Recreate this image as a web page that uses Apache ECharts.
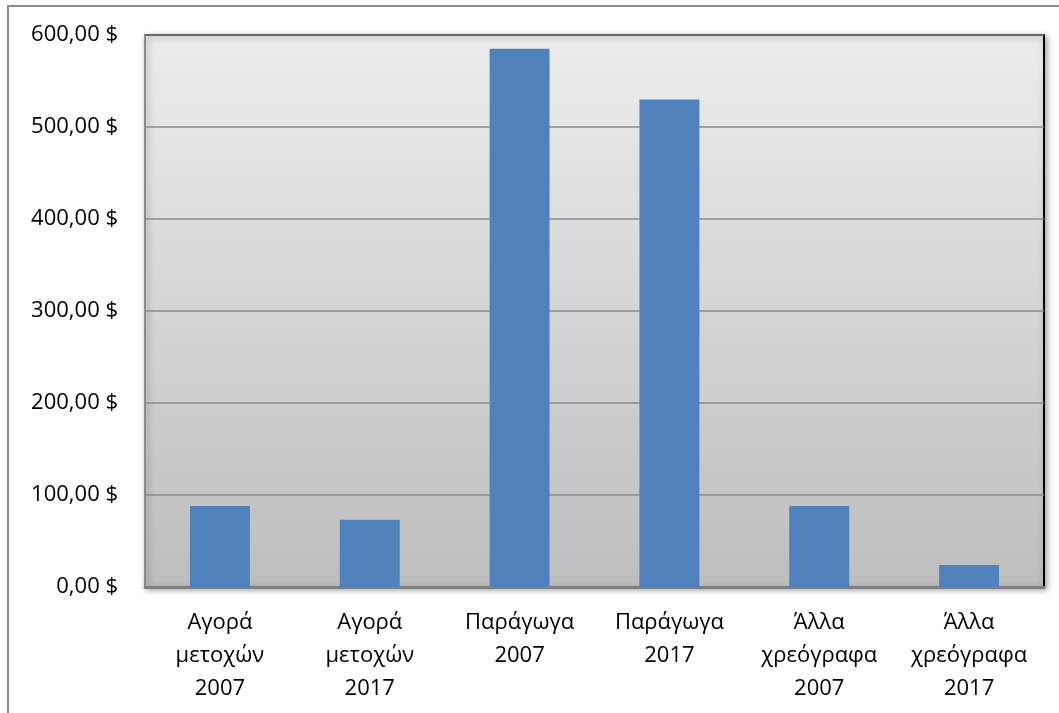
<!DOCTYPE html>
<html>
<head>
<meta charset="utf-8">
<script src="https://cdn.jsdelivr.net/npm/echarts@6/dist/echarts.min.js"></script>
<style>
html, body { margin: 0; padding: 0; background: #ffffff; }
#chart { width: 1059px; height: 713px; }
</style>
</head>
<body>
<div id="chart"></div>
<script>
// Categories (multi-line labels) and the amounts in dollars
const categories = [
  'Αγορά\nμετοχών\n2007',
  'Αγορά\nμετοχών\n2017',
  'Παράγωγα\n2007',
  'Παράγωγα\n2017',
  'Άλλα\nχρεόγραφα\n2007',
  'Άλλα\nχρεόγραφα\n2017'
];
const values = [88, 73, 585, 530, 88, 24];

const yMin = 0;
const yMax = 600;
const yStep = 100;

const FONT = '"Open Sans", Lato, sans-serif';

const chart = echarts.init(document.getElementById('chart'));

function money(v) {
  return v.toFixed(2).replace('.', ',') + ' $';
}

chart.setOption({
  backgroundColor: '#ffffff',
  animation: false,
  graphic: [{
    type: 'rect',
    shape: { x: 8, y: 6, width: 1200, height: 800 },
    style: { fill: 'none', stroke: '#8c8c8c', lineWidth: 2 },
    silent: true,
    z: -10
  }],
  grid: {
    left: 145,
    right: 15,
    top: 35,
    bottom: 126,
    show: true,
    borderColor: '#000000',
    borderWidth: 2,
    backgroundColor: new echarts.graphic.LinearGradient(0, 0, 0, 1, [
      { offset: 0, color: '#ededed' },
      { offset: 1, color: '#bdbdbd' }
    ]),
    shadowColor: 'rgba(0,0,0,0.35)',
    shadowBlur: 6,
    shadowOffsetX: 2,
    shadowOffsetY: 2
  },
  xAxis: {
    type: 'category',
    data: categories,
    axisTick: { show: false },
    axisLine: { show: true, lineStyle: { color: '#7f7f7f', width: 3 } },
    axisLabel: {
      color: '#000000',
      fontFamily: FONT,
      fontSize: 22,
      lineHeight: 33,
      margin: 19,
      interval: 0
    }
  },
  yAxis: {
    type: 'value',
    min: yMin,
    max: yMax,
    interval: yStep,
    axisLine: { show: true, lineStyle: { color: '#8c8c8c', width: 2 } },
    axisTick: { show: false },
    splitLine: { show: true, lineStyle: { color: '#8a8a8a', width: 1.5 } },
    axisLabel: {
      color: '#000000',
      fontFamily: FONT,
      fontSize: 22,
      margin: 27,
      formatter: money
    }
  },
  series: [{
    type: 'bar',
    data: values,
    barCategoryGap: '60%',
    itemStyle: { color: '#4f81bd' }
  }]
});
</script>
</body>
</html>
